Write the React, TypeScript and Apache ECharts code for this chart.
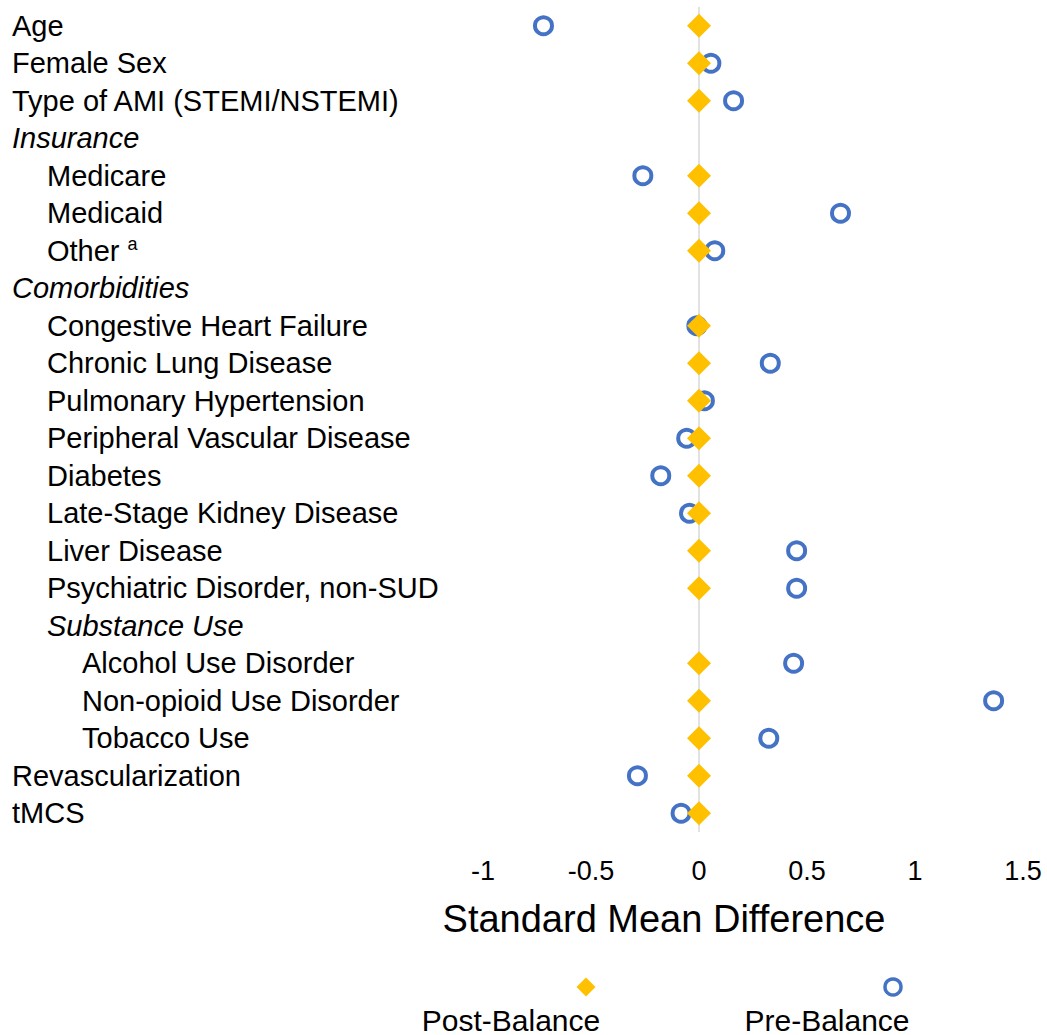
import React, { useEffect, useRef } from "react";
import * as echarts from "echarts";

const categories = [
  "Age",
  "Female Sex",
  "Type of AMI (STEMI/NSTEMI)",
  "Insurance",
  "Medicare",
  "Medicaid",
  "Other",
  "Comorbidities",
  "Congestive Heart Failure",
  "Chronic Lung Disease",
  "Pulmonary Hypertension",
  "Peripheral Vascular Disease",
  "Diabetes",
  "Late-Stage Kidney Disease",
  "Liver Disease",
  "Psychiatric Disorder, non-SUD",
  "Substance Use",
  "Alcohol Use Disorder",
  "Non-opioid Use Disorder",
  "Tobacco Use",
  "Revascularization",
  "tMCS",
];

const indentLevels = [0, 0, 0, 0, 1, 1, 1, 0, 1, 1, 1, 1, 1, 1, 1, 1, 1, 2, 2, 2, 0, 0];
const headerRows = ["Insurance", "Comorbidities", "Substance Use"];
const footnoteMarks: Record<string, string> = { Other: "a" };

const preBalance = [
  -0.72, 0.055, 0.16, null, -0.26, 0.655, 0.073, null, -0.01, 0.33, 0.025, -0.057, -0.177,
  -0.044, 0.452, 0.452, null, 0.438, 1.364, 0.323, -0.285, -0.083,
];

const postBalance = [
  0, 0, 0, null, 0, 0, 0, null, 0, 0, 0, 0, 0, 0, 0, 0, null, 0, 0, 0, 0, 0,
];

const xMin = -1;
const xMax = 1.5;
const xInterval = 0.5;

const axisTitle = "Standard Mean Difference";
const seriesNames = ["Pre-Balance", "Post-Balance"];

const FONT = '"Liberation Sans", Arial, Helvetica, sans-serif';
const BLUE = "#4472C4";
const GOLD = "#FFC000";

export default function App() {
  const ref = useRef<HTMLDivElement>(null);

  useEffect(() => {
    document.body.style.margin = "0";
    const chart = echarts.init(ref.current!, null, { renderer: "svg" });

    const base = { fontSize: 29, fontFamily: FONT, color: "#000", lineHeight: 32 };
    const indent = [0, 35, 70];
    const rich: Record<string, any> = {
      sup: { fontSize: 18, fontFamily: FONT, color: "#000", lineHeight: 18, verticalAlign: "top" },
    };
    for (let l = 0; l < 3; l++) {
      rich["n" + l] = { ...base, padding: [0, 0, 0, indent[l]] };
      rich["i" + l] = { ...base, fontStyle: "italic", padding: [0, 0, 0, indent[l]] };
    }

    chart.setOption({
      animation: false,
      grid: { left: 483, right: 24, top: 7, bottom: 203, containLabel: false },
      xAxis: {
        type: "value",
        min: xMin,
        max: xMax,
        interval: xInterval,
        axisLine: { show: false },
        axisTick: { show: false },
        splitLine: { show: false },
        axisLabel: { fontSize: 27, fontFamily: FONT, color: "#000", margin: 25 },
      },
      yAxis: {
        type: "category",
        data: categories,
        inverse: true,
        axisLine: { show: false },
        axisTick: { show: false },
        splitLine: { show: false },
        axisLabel: {
          align: "left",
          margin: 471,
          formatter: (value: string, index: number) => {
            const lvl = indentLevels[index];
            const key = (headerRows.includes(value) ? "i" : "n") + lvl;
            const fn = footnoteMarks[value];
            if (fn) return `{${key}|${value} }{sup|${fn}}`;
            return `{${key}|${value}}`;
          },
          rich,
        },
      },
      series: [
        {
          name: seriesNames[0],
          type: "scatter",
          data: preBalance.map((v, i) => (v === null ? null : [v, categories[i]])),
          symbol: "circle",
          symbolSize: 17,
          itemStyle: { color: "rgba(255,255,255,0)", borderColor: BLUE, borderWidth: 4, opacity: 1 },
          z: 2,
          markLine: {
            silent: true,
            symbol: "none",
            label: { show: false },
            lineStyle: { color: "#d9d9d9", width: 1.5, type: "solid" },
            data: [{ xAxis: 0 }],
            z: 1,
          },
        },
        {
          name: seriesNames[1],
          type: "scatter",
          data: postBalance.map((v, i) => (v === null ? null : [v, categories[i]])),
          symbol: "diamond",
          symbolSize: 24,
          itemStyle: { color: GOLD, opacity: 1 },
          z: 3,
        },
      ],
      graphic: [
        {
          type: "text",
          x: 664,
          y: 919,
          style: {
            text: axisTitle,
            fontSize: 38,
            fontFamily: FONT,
            fill: "#000",
            align: "center",
            verticalAlign: "middle",
          },
        },
        {
          type: "polygon",
          shape: { points: [[586, 977.5], [595.5, 987], [586, 996.5], [576.5, 987]] },
          style: { fill: GOLD },
        },
        {
          type: "text",
          x: 511,
          y: 1020,
          style: {
            text: seriesNames[1],
            fontSize: 30,
            fontFamily: FONT,
            fill: "#000",
            align: "center",
            verticalAlign: "middle",
          },
        },
        {
          type: "circle",
          shape: { cx: 893, cy: 987, r: 8 },
          style: { fill: "none", stroke: BLUE, lineWidth: 3.5 },
        },
        {
          type: "text",
          x: 827,
          y: 1020,
          style: {
            text: seriesNames[0],
            fontSize: 30,
            fontFamily: FONT,
            fill: "#000",
            align: "center",
            verticalAlign: "middle",
          },
        },
      ],
    });

    return () => chart.dispose();
  }, []);

  return <div ref={ref} style={{ width: 1047, height: 1035 }} />;
}
